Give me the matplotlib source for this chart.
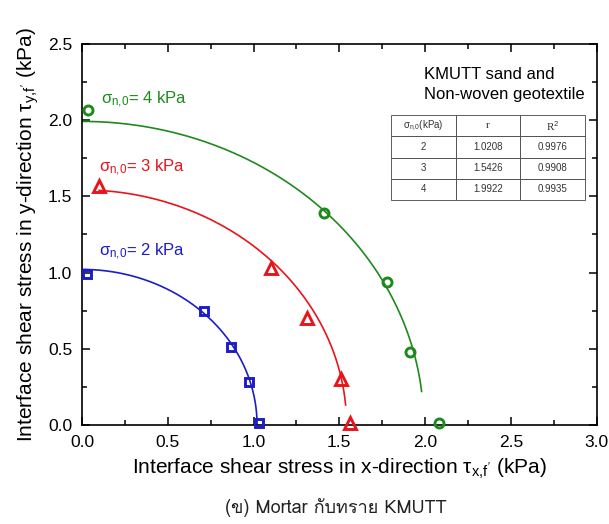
import numpy as np
import matplotlib
matplotlib.use('Agg')
import matplotlib.pyplot as plt
from matplotlib import font_manager
from matplotlib.ft2font import FT2Font
from matplotlib.ticker import MultipleLocator

# measured failure points (kPa)
tx_2 = [0.03, 0.71, 0.87, 0.975, 1.03]
ty_2 = [0.99, 0.745, 0.51, 0.28, 0.01]
tx_3 = [0.10, 1.10, 1.31, 1.51, 1.56]
ty_3 = [1.565, 1.03, 0.705, 0.30, 0.015]
tx_4 = [0.035, 1.41, 1.78, 1.91, 2.08]
ty_4 = [2.07, 1.39, 0.94, 0.48, 0.01]

# fitted radius, R^2 and x-range of each fitted arc
sigma = [2, 3, 4]
r_fit = [1.0208, 1.5426, 1.9922]
r2_fit = [0.9976, 0.9908, 0.9935]
fit_x0 = [0.0, 0.10, 0.0]
fit_x1 = [1.0208, 1.537, 1.98]

colors = ['#1c1cc8', '#e8141c', '#1e8a1e']
markers = ['s', '^', 'o']
msizes = [6, 8, 6.5]


def find_thai_font():
    for f in font_manager.fontManager.ttflist:
        try:
            if 0x0E01 in FT2Font(f.fname).get_charmap():
                return f.name
        except Exception:
            pass
    return None


plt.rcParams['font.family'] = ['Liberation Sans', 'DejaVu Sans']
plt.rcParams['mathtext.fontset'] = 'custom'
plt.rcParams['mathtext.rm'] = 'Liberation Sans'
plt.rcParams['mathtext.it'] = 'Liberation Sans'

fig = plt.figure(figsize=(6.09, 5.24), dpi=100)
ax = fig.add_axes([0.1346, 0.189, 0.845, 0.727])

pts = [(tx_2, ty_2), (tx_3, ty_3), (tx_4, ty_4)]
for i in range(3):
    th0 = np.arccos(min(fit_x1[i] / r_fit[i], 1.0))
    th1 = np.arccos(fit_x0[i] / r_fit[i])
    th = np.linspace(th0, th1, 300)
    ax.plot(r_fit[i] * np.cos(th), r_fit[i] * np.sin(th), color=colors[i], lw=1.2)
    ax.plot(pts[i][0], pts[i][1], ls='none', marker=markers[i], ms=msizes[i],
            mfc='none', mec=colors[i], mew=2.1, clip_on=False, zorder=5)

# curve labels
lab_xy = [(0.10, 1.11), (0.10, 1.66), (0.11, 2.11)]
for i in range(3):
    ax.text(lab_xy[i][0], lab_xy[i][1], 'σ$_{n{,}0}$= %d kPa' % sigma[i],
            color=colors[i], fontsize=12, ha='left', va='baseline')

ax.text(1.995, 2.268, 'KMUTT sand and', fontsize=12, ha='left', va='baseline')
ax.text(1.995, 2.137, 'Non-woven geotextile', fontsize=12, ha='left', va='baseline')

cell_text = [[str(sigma[i]), '%.4f' % r_fit[i], '%.4f' % r2_fit[i]] for i in range(3)]
tbl = ax.table(cellText=cell_text,
               colLabels=['σ$_{n{,}0}$(kPa)', 'r', 'R$^{2}$'],
               cellLoc='center', bbox=[0.601, 0.5906, 0.376, 0.223])
tbl.auto_set_font_size(False)
for (row, col), cell in tbl.get_celld().items():
    cell.set_linewidth(0.6)
    cell.set_edgecolor('#444444')
    cell.get_text().set_fontsize(7)
    cell.get_text().set_color('#333333')
    if row == 0 and col > 0:
        cell.get_text().set_family('Liberation Serif')
        cell.get_text().set_fontsize(8)

ax.set_xlim(0, 3.0)
ax.set_ylim(0, 2.5)
ax.xaxis.set_major_locator(MultipleLocator(0.5))
ax.xaxis.set_minor_locator(MultipleLocator(0.25))
ax.yaxis.set_major_locator(MultipleLocator(0.5))
ax.yaxis.set_minor_locator(MultipleLocator(0.25))
ax.xaxis.set_major_formatter(matplotlib.ticker.FormatStrFormatter('%.1f'))
ax.yaxis.set_major_formatter(matplotlib.ticker.FormatStrFormatter('%.1f'))
ax.tick_params(which='both', direction='in', top=True, right=True, width=1.1,
               labelsize=12.5, pad=7)
ax.tick_params(which='major', length=6)
ax.tick_params(which='minor', length=3.5)
for s in ax.spines.values():
    s.set_linewidth(1.2)

ax.set_xlabel("Interface shear stress in x-direction τ$_{x{,}f'}$ (kPa)", fontsize=15, labelpad=5)
ax.set_ylabel("Interface shear stress in y-direction τ$_{y{,}f'}$ (kPa)", fontsize=15, labelpad=5)

thai = find_thai_font()
fams = [thai, 'DejaVu Sans'] if thai else ['DejaVu Sans']
fig.text(0.552, 0.031, '(ข) Mortar กับทราย KMUTT', ha='center', va='center',
         fontsize=13, family=fams, color='#222222')

fig.savefig('out.png', dpi=100)
